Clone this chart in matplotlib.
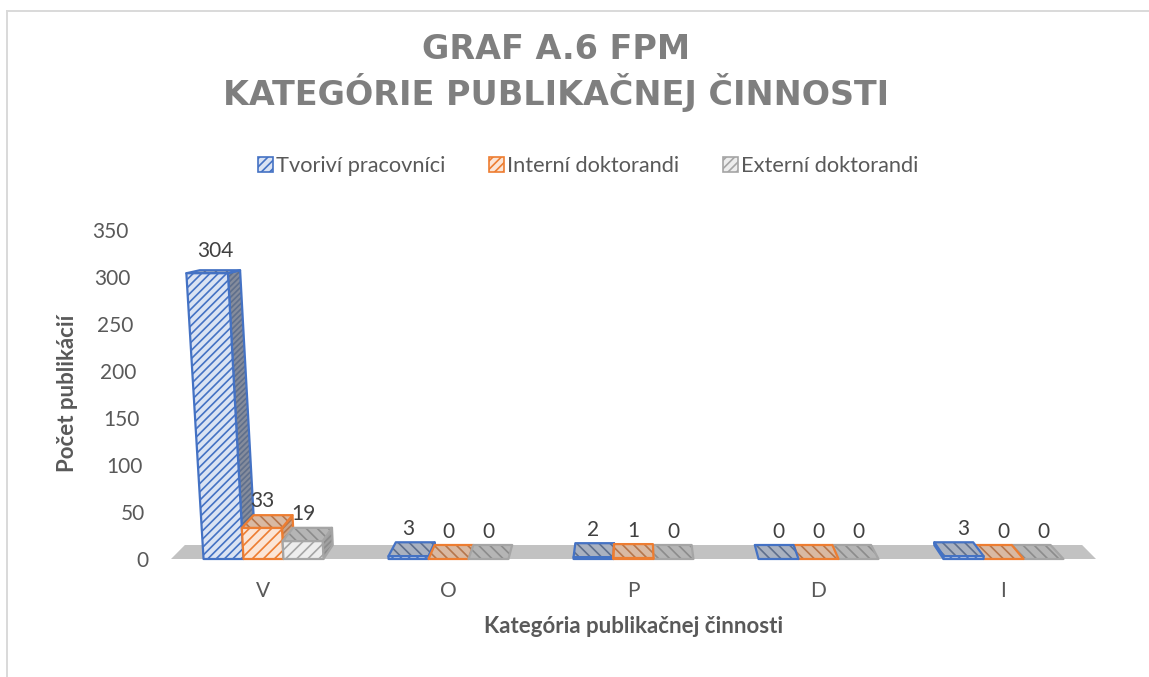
import matplotlib
matplotlib.use('Agg')
import matplotlib.pyplot as plt
from matplotlib.lines import Line2D
from matplotlib.patches import Patch, Polygon
from matplotlib.transforms import ScaledTranslation

plt.rcParams['font.family'] = ['Lato', 'DejaVu Sans']
plt.rcParams['hatch.linewidth'] = 1.2

# Data
categories = ['V', 'O', 'P', 'D', 'I']
series_names = ['Tvoriví pracovníci', 'Interní doktorandi', 'Externí doktorandi']
tvorivi = [304, 3, 2, 0, 3]
interni = [33, 0, 1, 0, 0]
externi = [19, 0, 0, 0, 0]
y_ticks = [0, 50, 100, 150, 200, 250, 300, 350]

# Colours per series: line, front face, dark hatch on top and side, fill on top and side
line_colors = ['#4472c4', '#ed7d31', '#a5a5a5']
front_colors = ['#dae3f3', '#fbe5d6', '#ededed']
top_hatch = ['#5f6f8c', '#b5764c', '#8c8c8c']
top_fill = ['#a9b1c0', '#d9b9a2', '#b5b5b5']
side_fill = ['#858c9c', '#c9a48a', '#a0a0a0']
front_hatch = ['////', '///', '///']

BAR_W = 0.216
CENTRE = 2.0  # category the fake perspective converges on
PX_PER_UNIT = 0.94


def project(x, v, back=False):
    # fake Excel's 3D view: bars lean to the centre, back edge sits higher and closer in
    scale = 1 + 0.04 * v / 304
    if back:
        scale *= 0.97
    rise = (14 - 11 * v / 304) / PX_PER_UNIT if back else 0
    return CENTRE + (x - CENTRE) * scale, v + rise


def face(ax, pts, fill, hatch_col, edge, hatch, z):
    ax.add_patch(Polygon(pts, closed=True, facecolor=fill, edgecolor=hatch_col,
                         hatch=hatch, linewidth=0, zorder=z, clip_on=False))
    ax.add_patch(Polygon(pts, closed=True, facecolor='none', edgecolor=edge,
                         linewidth=1.6, joinstyle='round', zorder=z, clip_on=False))


def draw_bar(ax, x0, x1, v, s, z):
    top = [project(x0, v), project(x1, v), project(x1, v, True), project(x0, v, True)]
    # visible side depends on which side of the centre the bar stands
    if x1 <= CENTRE:
        side = [project(x1, 0), project(x1, v), project(x1, v, True), project(x1, 0, True)]
    else:
        side = [project(x0, 0), project(x0, v), project(x0, v, True), project(x0, 0, True)]
    if v > 0:
        face(ax, side, side_fill[s], top_hatch[s], line_colors[s], '//////', z)
    face(ax, top, top_fill[s], top_hatch[s], line_colors[s], '\\\\\\', z + 0.1)
    if v > 0:
        front = [project(x0, 0), project(x1, 0), project(x1, v), project(x0, v)]
        face(ax, front, front_colors[s], line_colors[s], line_colors[s], front_hatch[s], z + 0.2)


fig = plt.figure(figsize=(11.49, 6.77), dpi=100)
ax = fig.add_axes([171 / 1149, 1 - 559 / 677, 925 / 1149, 329 / 677])
ax.set_xlim(-0.5, 4.5)
ax.set_ylim(0, 350)
for spine in ax.spines.values():
    spine.set_visible(False)

# floor
floor = [project(-0.5, 0), project(4.5, 0), project(4.5, 0, True), project(-0.5, 0, True)]
ax.add_patch(Polygon(floor, closed=True, facecolor='#c2c2c2', edgecolor='none', zorder=1))

values = [tvorivi, interni, externi]
bars = []
for i in range(len(categories)):
    for s in range(3):
        x0 = i + (s - 1.5) * BAR_W
        bars.append((abs(x0 + BAR_W / 2 - CENTRE), x0, values[s][i], s))
# far ones first so nearer bars cover their sides
bars.sort(key=lambda b: -b[0])
for n, (_, x0, v, s) in enumerate(bars):
    draw_bar(ax, x0, x0 + BAR_W, v, s, 2 + n)
    lx, ly = project(x0 + BAR_W / 2, v / 2)
    _, top_y = project(x0, v, True)
    ax.annotate(str(v), (lx, top_y), xytext=(0, 9.5 + 4 * v / 304), textcoords='offset points',
                ha='center', va='center', fontsize=15, color='#404040', zorder=100)

ax.set_xticks(range(len(categories)), categories)
ax.set_yticks(y_ticks, [str(t) for t in y_ticks])
ax.tick_params(axis='x', length=0, pad=16, labelsize=15, labelcolor='#595959')
ax.tick_params(axis='y', length=0, pad=16.5, labelsize=15, labelcolor='#595959')
# axis labels lean with the perspective too
for t, lab in zip(y_ticks, ax.get_yticklabels()):
    lab.set_transform(lab.get_transform() + ScaledTranslation(-0.2 * t / 350, 0, fig.dpi_scale_trans))

ax.set_xlabel('Kategória publikačnej činnosti', fontsize=16, fontweight='bold', color='#595959')
ax.xaxis.set_label_coords(0.5, -57 / 329)
ax.set_ylabel('Počet publikácií', fontsize=16, fontweight='bold', color='#595959')
ax.yaxis.set_label_coords(-93 / 925, 165.5 / 329)

fig.text(556 / 1149, 1 - 59 / 677, 'GRAF A.6 FPM', ha='center', va='baseline',
         fontsize=24, fontweight='bold', color='#7f7f7f', family='DejaVu Sans')
fig.text(556 / 1149, 1 - 105 / 677, 'KATEGÓRIE PUBLIKAČNEJ ČINNOSTI', ha='center', va='baseline',
         fontsize=24, fontweight='bold', color='#7f7f7f', family='DejaVu Sans')

handles = [Patch(facecolor=front_colors[s], edgecolor=line_colors[s], hatch='////', linewidth=1.2)
           for s in range(3)]
fig.legend(handles, series_names, loc='center', bbox_to_anchor=(588 / 1149, 1 - 166 / 677), ncol=3,
           frameon=False, fontsize=15.7, handlelength=0.68, handleheight=0.68,
           handletextpad=0.15, columnspacing=2.0, labelcolor='#595959')

# chart frame, only top and left are in the crop
fig.add_artist(Line2D([6.5 / 1149, 1], [1 - 11 / 677, 1 - 11 / 677], color='#d9d9d9', lw=1.4))
fig.add_artist(Line2D([6.5 / 1149, 6.5 / 1149], [1 - 11 / 677, 0], color='#d9d9d9', lw=1.4))

fig.savefig('out.png', dpi=100)
